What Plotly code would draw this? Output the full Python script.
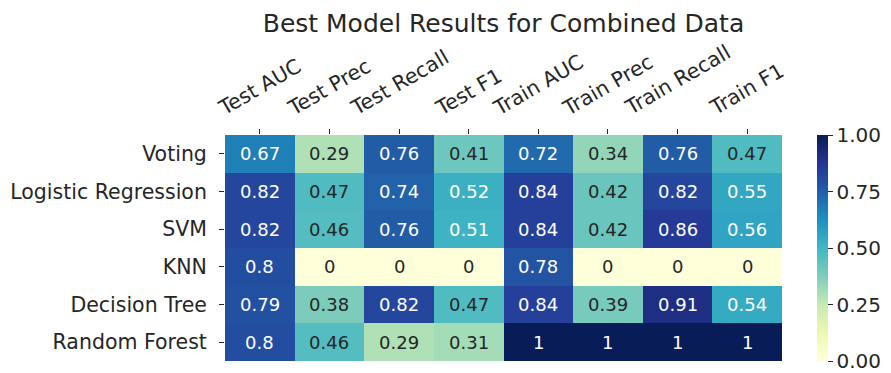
import plotly.graph_objects as go
import numpy as np

columns = ["Test AUC", "Test Prec", "Test Recall", "Test F1",
           "Train AUC", "Train Prec", "Train Recall", "Train F1"]
models = ["Voting", "Logistic Regression", "SVM", "KNN", "Decision Tree", "Random Forest"]

voting = [0.67, 0.29, 0.76, 0.41, 0.72, 0.34, 0.76, 0.47]
logreg = [0.82, 0.47, 0.74, 0.52, 0.84, 0.42, 0.82, 0.55]
svm = [0.82, 0.46, 0.76, 0.51, 0.84, 0.42, 0.86, 0.56]
knn = [0.8, 0, 0, 0, 0.78, 0, 0, 0]
dtree = [0.79, 0.38, 0.82, 0.47, 0.84, 0.39, 0.91, 0.54]
rforest = [0.8, 0.46, 0.29, 0.31, 1, 1, 1, 1]

z = [voting, logreg, svm, knn, dtree, rforest]

ylgnbu = ["#ffffd9", "#edf8b1", "#c7e9b4", "#7fcdbb", "#41b6c4",
          "#1d91c0", "#225ea8", "#253494", "#081d58"]
colorscale = [[i / (len(ylgnbu) - 1), c] for i, c in enumerate(ylgnbu)]

TICK = 20.5
CBTICK = 20
CELL = 18
TITLE = 25
DARK = "#262626"

# the page body adds an 8px offset; the figure is sized so the result fills 891x373
OFF = 8
W, H = 891 - OFF, 373 - OFF
L, R, T, B = 225 - OFF, 891 - 782, 135 - OFF, 12
PW, PH = W - L - R, H - T - B


def hex2rgb(h):
    h = h.lstrip("#")
    return [int(h[i:i + 2], 16) / 255 for i in (0, 2, 4)]


stops = np.linspace(0, 1, len(ylgnbu))
rgbs = np.array([hex2rgb(c) for c in ylgnbu])


def color_at(v):
    return [np.interp(v, stops, rgbs[:, k]) for k in range(3)]


def lum(rgb):
    lin = [c / 12.92 if c <= 0.03928 else ((c + 0.055) / 1.055) ** 2.4 for c in rgb]
    return 0.2126 * lin[0] + 0.7152 * lin[1] + 0.0722 * lin[2]


def fmt(v):
    return "{:.2g}".format(v)


fig = go.Figure()
fig.add_trace(go.Heatmap(
    z=z, x=columns, y=models, colorscale=colorscale, zmin=0, zmax=1,
    xgap=0, ygap=0, hoverinfo="skip",
    colorbar=dict(
        x=(817 - 225) / PW, xanchor="left", xref="paper", xpad=0, ypad=0,
        y=0.5, yanchor="middle", len=1,
        thickness=11, outlinewidth=0, ticks="outside", ticklen=5, tickwidth=1,
        tickcolor=DARK, tickvals=[0, 0.25, 0.5, 0.75, 1.0],
        ticktext=["0.00", "0.25", "0.50", "0.75", "1.00"],
        tickfont=dict(family="DejaVu Sans", size=CBTICK, color=DARK),
    ),
))

annotations = []
for i, m in enumerate(models):
    for j, c in enumerate(columns):
        v = z[i][j]
        tc = DARK if lum(color_at(v)) > 0.408 else "white"
        annotations.append(dict(
            x=c, y=m, xref="x", yref="y", text=fmt(v), showarrow=False,
            font=dict(family="DejaVu Sans", size=CELL, color=tc)))

for c in columns:
    annotations.append(dict(
        x=c, y=1 + (135 - 123) / PH, xref="x", yref="paper", text=c, showarrow=False,
        textangle=-30, xanchor="center", yanchor="bottom",
        font=dict(family="DejaVu Sans", size=TICK, color=DARK)))

fig.update_layout(
    width=W, height=H,
    margin=dict(l=L, r=R, t=T, b=B, autoexpand=False),
    paper_bgcolor="white", plot_bgcolor="white",
    title=dict(text="Best Model Results for Combined Data",
               x=0.5, xref="paper", xanchor="center",
               y=1 - (23 - OFF) / H, yref="container", yanchor="middle",
               font=dict(family="DejaVu Sans", size=TITLE, color=DARK)),
    annotations=annotations,
    xaxis=dict(side="top", showticklabels=False, ticks="outside", ticklen=5,
               tickcolor=DARK, showgrid=False, zeroline=False, showline=False,
               range=[-0.5, len(columns) - 0.5], autorange=False),
    yaxis=dict(range=[len(models) - 0.5, -0.5], autorange=False,
               ticks="outside", ticklen=5, tickcolor=DARK, ticklabelstandoff=8,
               showgrid=False, zeroline=False, showline=False,
               tickfont=dict(family="DejaVu Sans", size=TICK, color=DARK)),
)

fig.write_html("out.html")
